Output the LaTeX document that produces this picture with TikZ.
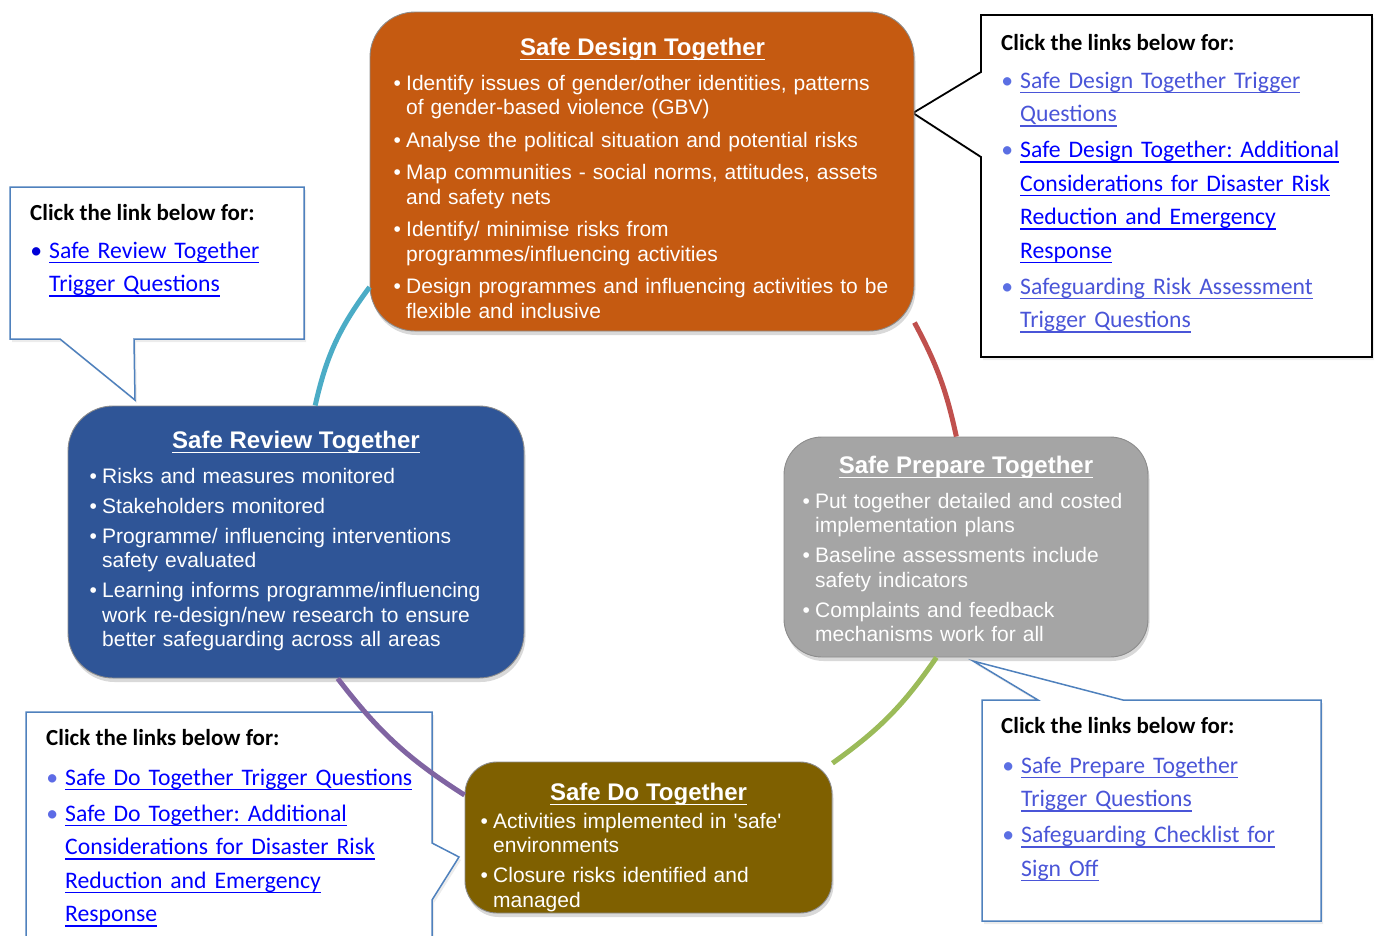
\documentclass[tikz,border=0pt]{standalone}
\usepackage{fontspec}
\setmainfont{Liberation Sans}
\newfontfamily\notefont{Carlito}
\usetikzlibrary{shadows}
\frenchspacing

\definecolor{designorange}{HTML}{C55A11}
\definecolor{reviewblue}{HTML}{2F5597}
\definecolor{preparegrey}{HTML}{A5A5A5}
\definecolor{doolive}{HTML}{7F6000}
\definecolor{loopteal}{HTML}{4BACC6}
\definecolor{loopred}{HTML}{C0504D}
\definecolor{loopgreen}{HTML}{9BBB59}
\definecolor{looppurple}{HTML}{8064A2}
\definecolor{noteblue}{HTML}{4F81BD}
\definecolor{linkblue}{HTML}{0000FF}
\definecolor{linkpale}{HTML}{4A55D8}
\definecolor{bulletpale}{HTML}{5B6FE3}
\definecolor{bulletdark}{HTML}{0000D8}
\definecolor{bulletmid}{HTML}{5D6BE6}

% underline at a fixed depth, for titles and links
\newcommand{\undl}[1]{\leavevmode\setbox0=\hbox{#1}\rlap{\rule[-5.1pt]{\wd0}{1.6pt}}\box0}
% one bullet point in a stage box
\newcommand{\bpt}[1]{\leavevmode\llap{\makebox[18pt][c]{\textbullet}}#1\par}
% one link in a note
\newcommand{\lpt}[2][linkblue]{\leavevmode\llap{\makebox[26pt][c]{\textcolor{#1}{\textbullet}}}#2\par}

\tikzset{
  stage/.style={rectangle, draw=black!45, line width=0.9pt, inner sep=0pt,
    drop shadow={shadow xshift=1.5pt, shadow yshift=-4pt, opacity=0.3}},
  stagetitle/.style={anchor=base, inner sep=0pt, text=white,
    font=\fontsize{24}{28}\selectfont\bfseries},
  stagetext/.style={anchor=base west, inner sep=0pt, text=white, align=left,
    text width=500pt, font=\fontsize{21}{24.5}\selectfont,
    execute at begin node={\setlength{\parskip}{#1}}},
  stagetext/.default=8pt,
  linknote/.style={fill=white, draw=noteblue, line width=1.5pt,
    drop shadow={shadow xshift=2pt, shadow yshift=-3pt, opacity=0.15}},
  notehead/.style={anchor=base west, inner sep=0pt,
    font=\notefont\fontsize{23}{28}\selectfont\bfseries},
  notelinks/.style={anchor=base west, inner sep=0pt, align=left,
    text width=380pt, text=linkblue, font=\notefont\fontsize{23.7}{33.5}\selectfont,
    execute at begin node={\setlength{\parskip}{2.5pt}}},
  loopline/.style={draw=#1, line width=5pt}
}

\begin{document}
\begin{tikzpicture}[x=1pt, y=-1pt]
\useasboundingbox (0,0) rectangle (1377,935);
\clip (0,0) rectangle (1377,935);

% link notes
\draw[linknote, draw=black, line width=1.8pt] (981,15) -- (1372,15) -- (1372,357)
  -- (981,357) -- (981,157) -- (913,113) -- (981,72) -- cycle;
\node[notehead] (designhead) at (1001,50) {Click the links below for:};
\node[notelinks, text=linkpale] (designlinks) at (1020,88) {%
  \lpt[bulletpale]{\undl{Safe Design Together Trigger}\\\undl{Questions}}
  \lpt[bulletpale]{\textcolor{linkblue}{\undl{Safe Design Together: Additional}\\
    \undl{Considerations for Disaster Risk}\\\undl{Reduction and Emergency}\\
    \undl{Response}}}
  \lpt[bulletpale]{\undl{Safeguarding Risk Assessment}\\\undl{Trigger Questions}}};

\draw[linknote] (10,187) -- (304,187) -- (304,339) -- (134,339) -- (135,400)
  -- (60,339) -- (10,339) -- cycle;
\node[notehead] (reviewhead) at (30,220) {Click the link below for:};
\node[notelinks] (reviewlinks) at (49,258) {%
  \lpt[bulletdark]{\undl{Safe Review Together}\\\undl{Trigger Questions}}};

\draw[linknote] (26,712) -- (432,712) -- (432,843) -- (459,857) -- (432,900)
  -- (432,960) -- (26,960) -- cycle;
\node[notehead] (dohead) at (46,745) {Click the links below for:};
\node[notelinks] (dolinks) at (65,785) {%
  \lpt[bulletmid]{\undl{Safe Do Together Trigger Questions}}
  \lpt[bulletmid]{\undl{Safe Do Together: Additional}\\
    \undl{Considerations for Disaster Risk}\\\undl{Reduction and Emergency}\\
    \undl{Response}}};

\draw[linknote] (982,700) -- (1038,700) -- (973,661) -- (1123,700) -- (1321,700)
  -- (1321,921) -- (982,921) -- cycle;
\node[notehead] (preparehead) at (1001,733) {Click the links below for:};
\node[notelinks, text=linkpale] (preparelinks) at (1021,773) {%
  \lpt[bulletpale]{\undl{Safe Prepare Together}\\\undl{Trigger Questions}}
  \lpt[bulletpale]{\undl{Safeguarding Checklist for}\\\undl{Sign Off}}};

% the four stages
\node[stage, fill=designorange, rounded corners=45pt,
  minimum width=544pt, minimum height=319pt] (design) at (642,171.5) {};
\node[stage, fill=reviewblue, rounded corners=45pt,
  minimum width=456pt, minimum height=272pt] (review) at (296,542) {};
\node[stage, fill=preparegrey, rounded corners=38pt,
  minimum width=364pt, minimum height=220pt] (prepare) at (966,547) {};
\node[stage, fill=doolive, rounded corners=32pt,
  minimum width=367pt, minimum height=151pt] (doing) at (648.5,837.5) {};

% cycle between the stages
\draw[loopline=loopred] (design.-29) to[bend left=8] (prepare.95);
\draw[loopline=loopgreen] (prepare.255) to[bend left=10] (doing.22);
\draw[loopline=looppurple] (doing.167) to[bend left=10] (review.-73);
\draw[loopline=loopteal] (review.82) to[bend left=12] (design.203);

\node[stagetitle] (designtitle) at (642.5,55) {\undl{Safe Design Together}};
\node[stagetext] (designtext) at (406,90) {%
  \bpt{Identify issues of gender/other identities, patterns\\of gender-based violence (GBV)}
  \bpt{Analyse the political situation and potential risks}
  \bpt{Map communities - social norms, attitudes, assets\\and safety nets}
  \bpt{Identify/ minimise risks from\\programmes/influencing activities}
  \bpt{Design programmes and influencing activities to be\\flexible and inclusive}};

\node[stagetitle] (reviewtitle) at (296,448) {\undl{Safe Review Together}};
\node[stagetext=5.5pt] (reviewtext) at (102,483) {%
  \bpt{Risks and measures monitored}
  \bpt{Stakeholders monitored}
  \bpt{Programme/ influencing interventions\\safety evaluated}
  \bpt{Learning informs programme/influencing\\work re-design/new research to ensure\\better safeguarding across all areas}};

\node[stagetitle] (preparetitle) at (966,473) {\undl{Safe Prepare Together}};
\node[stagetext=5.5pt] (preparetext) at (815,508) {%
  \bpt{Put together detailed and costed\\implementation plans}
  \bpt{Baseline assessments include\\safety indicators}
  \bpt{Complaints and feedback\\mechanisms work for all}};

\node[stagetitle] (dotitle) at (648.5,800) {\undl{Safe Do Together}};
\node[stagetext=5.5pt] (dotext) at (493,828) {%
  \bpt{Activities implemented in \textquotesingle safe\textquotesingle\\environments}
  \bpt{Closure risks identified and\\managed}};
\end{tikzpicture}
\end{document}
